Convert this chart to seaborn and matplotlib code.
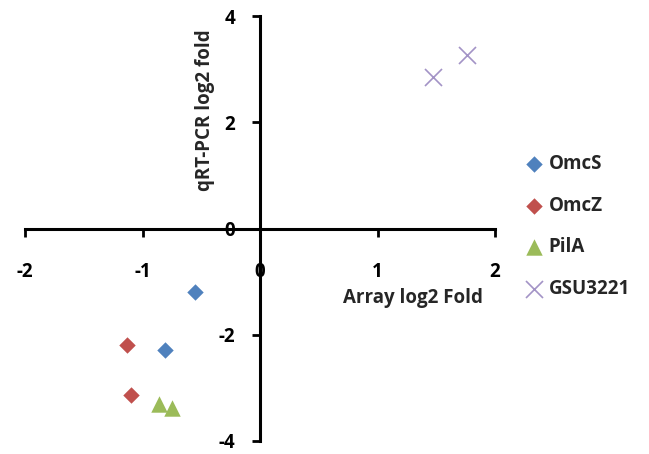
import matplotlib
matplotlib.use("Agg")
import matplotlib.pyplot as plt
import seaborn as sns
import pandas as pd

series = ["OmcS", "OmcZ", "PilA", "GSU3221"]
omcs_x = [-0.55, -0.81]
omcs_y = [-1.19, -2.29]
omcz_x = [-1.13, -1.10]
omcz_y = [-2.19, -3.14]
pila_x = [-0.86, -0.75]
pila_y = [-3.30, -3.38]
gsu_x = [1.47, 1.76]
gsu_y = [2.86, 3.26]
x_ticks = [-2, -1, 0, 1, 2]
y_ticks = [-4, -2, 0, 2, 4]

data = {"OmcS": (omcs_x, omcs_y), "OmcZ": (omcz_x, omcz_y),
        "PilA": (pila_x, pila_y), "GSU3221": (gsu_x, gsu_y)}
colors = {"OmcS": "#4F81BD", "OmcZ": "#C0504D", "PilA": "#9BBB59", "GSU3221": "#A393C6"}
markers = {"OmcS": "D", "OmcZ": "D", "PilA": "^", "GSU3221": "x"}
sizes = {"OmcS": 70, "OmcZ": 70, "PilA": 140, "GSU3221": 150}

sns.set_style("white")
plt.rcParams["font.family"] = ["Open Sans", "DejaVu Sans"]
plt.rcParams["font.weight"] = "bold"
FS = 13.5

fig = plt.figure(figsize=(6.49, 4.54), dpi=100)
ax = fig.add_axes([25/649, 13/454, 470/649, 425/454])

for name in series:
    xs, ys = data[name]
    df = pd.DataFrame({"x": xs, "y": ys})
    if markers[name] == "x":
        sns.scatterplot(data=df, x="x", y="y", ax=ax, marker="x", s=sizes[name],
                        color=colors[name], linewidth=1.2, label=name)
    else:
        sns.scatterplot(data=df, x="x", y="y", ax=ax, marker=markers[name], s=sizes[name],
                        color=colors[name], linewidth=0, label=name)

ax.set_xlim(-2, 2)
ax.set_ylim(-4, 4)
ax.set_xticks(x_ticks)
ax.set_yticks(y_ticks)
ax.set_xticklabels([str(t) for t in x_ticks])
ax.set_yticklabels([str(t) for t in y_ticks])

for s in ["top", "right"]:
    ax.spines[s].set_visible(False)
ax.spines["left"].set_position(("data", 0))
ax.spines["bottom"].set_position(("data", 0))
for s in ["left", "bottom"]:
    ax.spines[s].set_linewidth(2.2)
    ax.spines[s].set_color("black")

ax.tick_params(axis="x", direction="out", length=6, width=2, pad=18, labelsize=FS, colors="black")
ax.tick_params(axis="y", direction="out", length=6, width=2, pad=12, labelsize=FS, colors="black")
ax.tick_params(bottom=True, left=True)
for lab in ax.get_xticklabels() + ax.get_yticklabels():
    lab.set_fontweight("bold")

ax.set_xlabel("")
ax.set_ylabel("")
fig.text(413/649, 1 - 298/454, "Array log2 Fold", ha="center", va="center",
         fontsize=FS, fontweight="bold")
fig.text(205/649, 1 - 110/454, "qRT-PCR log2 fold", ha="center", va="center",
         fontsize=FS, fontweight="bold", rotation=90)

leg = ax.legend(loc="upper left", bbox_to_anchor=(1.06, 0.675), frameon=False,
                borderaxespad=0, borderpad=0, handletextpad=0.15, labelspacing=1.15,
                handlelength=1.2, prop={"size": FS, "weight": "bold"})

fig.savefig("out.png", dpi=100)
